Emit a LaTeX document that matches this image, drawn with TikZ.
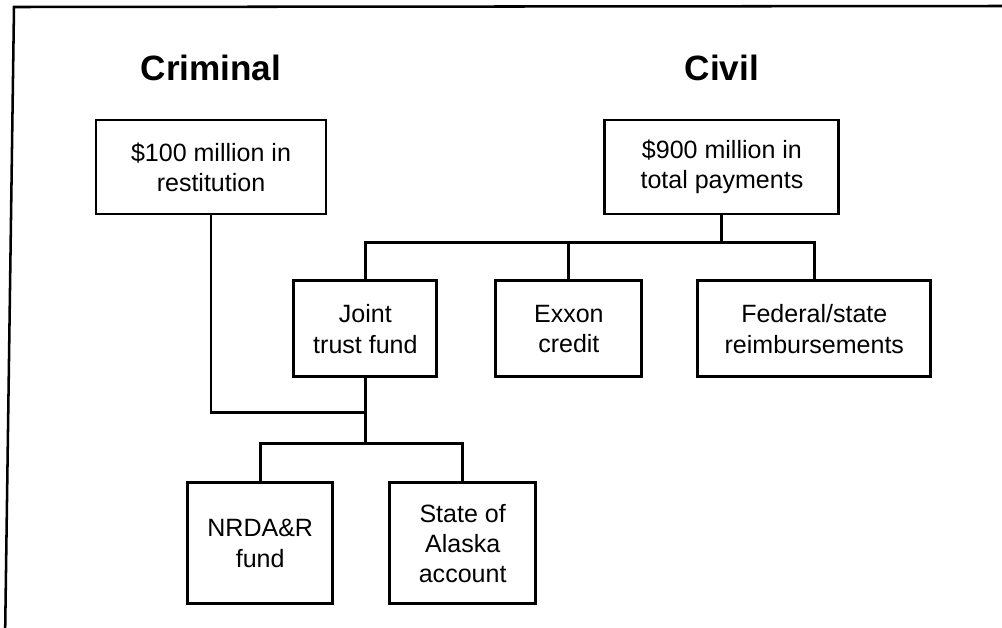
\documentclass[tikz,border=0pt]{standalone}
\usepackage{fontspec}
\setmainfont{Liberation Sans}
\usetikzlibrary{positioning,calc}

\begin{document}
\begin{tikzpicture}[
    font=\fontsize{17.8}{21.5}\selectfont,
    box/.style={draw, rectangle, align=center, inner sep=2pt, line width=2.1pt},
    topbox/.style={box, minimum height=23.5mm},
    midbox/.style={box, minimum height=24mm},
    fundbox/.style={box, minimum height=30.25mm},
    heading/.style={font=\fontsize{25}{30}\selectfont\bfseries, inner sep=0pt},
    link/.style={line width=2.1pt},
    frameline/.style={line width=1.8pt}
  ]

  \useasboundingbox (0,0) rectangle (250.5mm,-157mm);

  % ========= open frame (top and left only) =========
  \coordinate (frametl) at (3.5mm,-1.75mm);
  \coordinate (frametr) at (250.5mm,-1.5mm);
  \coordinate (framebl) at (1.3mm,-157mm);
  \draw[frameline] (frametr) -- (frametl) -- (framebl);

  % ========= top row: criminal and civil settlements =========
  \node[topbox, minimum width=57.5mm] (rest) at (52.75mm,-41.75mm)
    {\$100 million in\\restitution};
  \node[topbox, minimum width=58.5mm, right=69mm of rest] (total)
    {\$900 million in\\total payments};

  \node[heading, above=9.3mm of rest]  (crimhead) {Criminal};
  \node[heading, above=9.3mm of total] (civhead)  {Civil};

  % ========= civil split =========
  \node[midbox, minimum width=35.75mm, below=16mm of rest, xshift=38.6mm] (joint)
    {Joint\\trust fund};
  \node[midbox, minimum width=36.5mm, right=14mm of joint] (exxon)
    {Exxon\\credit};
  \node[midbox, minimum width=58.25mm, right=13.25mm of exxon] (fed)
    {Federal/state\\reimbursements};

  \coordinate[below=6.75mm of total.south] (civbus);
  \draw[link] (total.south) -- (civbus);
  \draw[link] (joint.north) |- (civbus) -| (fed.north);
  \draw[link] (exxon.north) -- (exxon.north |- civbus);

  % ========= restitution joins the trust fund =========
  \coordinate[below=8.5mm of joint.south] (crimjoin);
  \draw[link] (rest.south) |- (crimjoin);

  % ========= trust fund split =========
  \node[fundbox, minimum width=36.25mm, below=25.75mm of joint, xshift=-26.3mm] (nrda)
    {NRDA\&R\\fund};
  \node[fundbox, minimum width=36.5mm, right=13.5mm of nrda] (state)
    {State of\\Alaska\\account};

  \coordinate[below=16.25mm of joint.south] (fundbus);
  \draw[link] (joint.south) -- (fundbus);
  \draw[link] (nrda.north) |- (fundbus) -| (state.north);

\end{tikzpicture}
\end{document}
